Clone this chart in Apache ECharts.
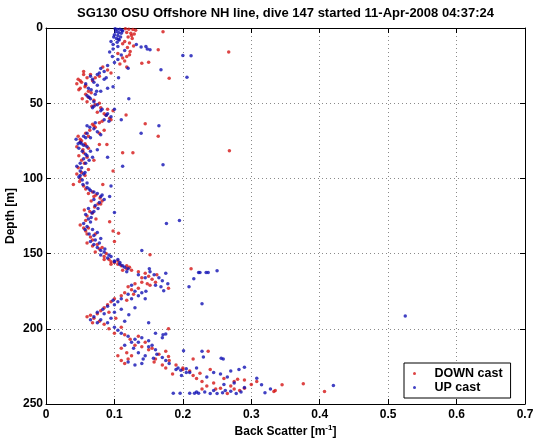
<!DOCTYPE html>
<html><head><meta charset="utf-8">
<script src="https://cdn.jsdelivr.net/npm/echarts@6/dist/echarts.min.js"></script>
<style>html,body{margin:0;padding:0;background:#fff}#c{width:537px;height:442px}</style>
</head><body><div id="c"></div>
<script>
const titleText = 'SG130 OSU Offshore NH line, dive 147 started 11-Apr-2008 04:37:24';
const xName = 'Back Scatter [m';
const xNameSup = '-1';
const yName = 'Depth [m]';
const seriesNames = ['DOWN cast', 'UP cast'];
const xMin = 0, xMax = 0.7, xStep = 0.1;
const yMin = 0, yMax = 250, yStep = 50;

// [back scatter, depth]
const downCast = [
[0.116,0.5],[0.121,0.8],[0.127,1],[0.131,1.5],[0.118,3],[0.124,3.5],[0.129,4],[0.120,6],[0.126,7],[0.115,9],[0.122,10],[0.128,12],[0.119,13],[0.171,2.5],[0.164,14.4],[0.267,16],[0.123,15.6],[0.122,17.8],
[0.105,17],[0.112,20],[0.108,24],[0.115,22],[0.118,26],[0.14,23.4],[0.15,22.7],[0.18,33.4],
[0.083,26],[0.09,28],[0.095,30],[0.078,32],
[0.047,34],[0.052,36],[0.058,38],[0.05,40],[0.062,42],[0.045,37],[0.068,35],[0.055,31],[0.06,33],
[0.062,46],[0.07,48],[0.078,50],[0.067,52],
[0.075,56],[0.088,58],[0.093,60],[0.082,62],[0.098,55],[0.117,57.8],
[0.068,64],[0.072,66],[0.078,70],[0.085,68],[0.062,72],[0.145,63.7],[0.164,72],
[0.047,72],[0.052,75],[0.057,77],[0.045,79],
[0.05,76],[0.058,78],[0.062,80],[0.055,83],[0.06,86],[0.07,88],[0.078,77.5],[0.089,77.5],[0.112,83],[0.127,83],[0.098,95],[0.268,81.6],
[0.047,93],[0.052,96],[0.04,104],[0.057,98],[0.05,100],[0.062,94],[0.083,104],
[0.058,107],[0.068,109],[0.073,111],[0.079,113],[0.066,115],[0.076,117],[0.08,117],
[0.056,121],[0.068,123],[0.06,125],[0.073,127],[0.093,128.8],
[0.05,131],[0.062,133],[0.058,135],[0.072,137],[0.065,139],[0.098,135],[0.106,136.5],
[0.06,143],[0.068,145],[0.078,147],[0.072,149],[0.1,142],[0.152,150.7],
[0.085,152],[0.092,154],[0.1,156],[0.11,158],[0.118,160],[0.125,161],[0.105,155],[0.212,160],
[0.085,154],[0.095,155.5],[0.105,157],[0.118,158],[0.122,159],
[0.145,163],[0.15,165],[0.155,167],[0.16,169],[0.148,170],[0.162,164],[0.179,173],
[0.12,172],[0.13,170],[0.14,169],[0.125,174],[0.115,176],[0.11,178],[0.135,173],
[0.1,180],[0.095,182],[0.09,184],[0.085,186],[0.08,188],[0.075,190],[0.065,191],[0.07,193],[0.06,192],[0.078,195],[0.085,197],[0.102,193],
[0.11,199],[0.115,204],[0.123,207],[0.135,205],[0.145,209],[0.179,200],
[0.11,213],[0.118,216],[0.125,218],[0.14,212],[0.15,214],[0.165,217],[0.175,215],[0.179,218.4],
[0.105,218],[0.11,221],[0.115,223],[0.12,220],[0.158,222],[0.17,224],[0.18,221],
[0.19,224],[0.2,226],[0.21,228],[0.215,231],[0.225,229.6],[0.24,227],[0.26,233],[0.275,235],[0.28,233.5],[0.29,234],[0.237,215],[0.215,220],
[0.2,227],[0.22,233],[0.228,235],[0.175,226],
[0.308,235],[0.345,237.2],[0.376,236.6],[0.407,241.7],[0.333,241.7],
[0.228,240],[0.235,238],[0.248,240],[0.255,239.5],[0.265,243],[0.275,240],[0.283,241],[0.29,239.5],[0.335,241],
[0.055,29],[0.065,31],[0.072,33],[0.05,35],[0.057,39],[0.048,41],[0.066,43],[0.058,44],[0.053,47],[0.06,49],[0.072,51],[0.08,53],[0.09,54],[0.085,57],[0.095,61],[0.078,63],[0.07,65],[0.064,68],[0.058,70],[0.05,74],
[0.054,81],[0.048,85],[0.052,88],[0.056,90],[0.045,97],[0.049,102],[0.055,105],[0.062,110],[0.07,112],[0.082,115],[0.071,119],[0.064,122],[0.058,128],[0.055,133],[0.06,137],[0.068,141],[0.075,144],[0.082,146],[0.088,150],
[0.095,157],[0.112,161],[0.135,162],[0.14,166],[0.152,171],[0.128,177],[0.118,181],[0.092,189],[0.068,196],[0.092,200],[0.1,203],[0.13,211],[0.155,213],[0.16,220],[0.185,230],[0.245,236],[0.27,238],[0.3,237],[0.112,10.5],[0.125,5],[0.118,19]
];

const upCast = [
[0.101,0.5],[0.104,1],[0.108,0.8],[0.111,1.5],[0.102,2.5],[0.106,3],[0.110,3.5],[0.100,4.5],[0.105,5],[0.109,6],[0.103,7],[0.107,8],[0.112,2],[0.104,9.5],[0.099,6],
[0.132,11],[0.139,12.7],[0.146,12.3],[0.148,14],[0.152,14.5],[0.095,9],[0.098,11],[0.105,12.3],[0.2,18.3],[0.212,18.5],
[0.093,16],[0.097,19],[0.105,21],[0.1,23],[0.11,18],[0.12,26.7],[0.168,27.8],[0.206,32.7],
[0.08,27],[0.085,29],[0.075,31],[0.09,25],[0.088,33],
[0.065,32],[0.07,36],[0.075,38],[0.062,40],[0.08,42],[0.072,44],[0.085,34],[0.09,40],[0.098,39],[0.106,33],
[0.06,45],[0.065,47],[0.07,49],[0.075,51],[0.068,53],[0.121,47],
[0.08,55],[0.09,57],[0.095,59],[0.085,61],[0.1,54],[0.11,61],
[0.06,65],[0.07,67],[0.075,69],[0.08,71],[0.065,73],[0.165,65],[0.139,70],
[0.044,74],[0.05,76],[0.055,78],[0.048,80],[0.058,73],
[0.052,77],[0.06,79],[0.065,82],[0.058,84],[0.068,86],[0.063,88],[0.075,81],[0.09,86],[0.112,92],[0.171,91],
[0.045,92],[0.05,95],[0.055,97],[0.048,99],[0.053,101],[0.06,103],[0.058,90],[0.095,105],
[0.06,106],[0.065,108],[0.075,110],[0.08,112],[0.07,114],[0.078,116],[0.072,118],[0.093,112],[0.1,122.6],
[0.062,120],[0.07,122],[0.058,124],[0.066,126],
[0.055,130],[0.06,132],[0.068,134],[0.075,136],[0.07,138],[0.08,140],[0.176,130],[0.195,128],
[0.065,142],[0.07,144],[0.075,146],[0.08,148],[0.085,149],[0.14,148],
[0.08,151],[0.09,153],[0.1,155],[0.108,157],[0.115,159],[0.12,160],[0.095,152],[0.151,160],
[0.1,155.5],[0.108,156],[0.112,158],
[0.152,162],[0.158,164],[0.165,166],[0.17,168],[0.175,163],[0.178,170],[0.168,172],[0.223,162.5],[0.234,162.5],[0.209,172],[0.172,174.7],[0.228,183.4],
[0.225,162.6],[0.237,162.6],[0.25,161.4],[0.216,166.8],
[0.125,171],[0.13,175],[0.12,177],[0.14,176],[0.145,180],[0.11,180],[0.105,182],[0.146,175],[0.13,186],
[0.098,181],[0.09,185],[0.083,187],[0.075,189],[0.07,192],[0.08,194],[0.09,196],[0.095,193],[0.1,189],[0.11,187],[0.121,190.7],[0.115,195],[0.15,196],
[0.525,191.5],
[0.105,201],[0.11,203],[0.12,205],[0.13,207],[0.14,206],[0.125,209],[0.15,208],[0.16,203],[0.17,206],[0.171,204],[0.175,203.5],
[0.115,211],[0.128,213],[0.135,216],[0.145,218],[0.155,211],[0.16,214],[0.17,219],[0.142,220],[0.157,219.5],[0.201,214.6],[0.228,215],[0.23,218.8],[0.256,219.5],[0.259,220],
[0.12,222],[0.13,224],[0.14,223],
[0.18,223],[0.19,227],[0.205,229],
[0.193,226],[0.197,227.5],[0.205,226.5],[0.21,229],[0.22,226],[0.235,232],[0.245,229],[0.255,230],[0.265,232],[0.27,228],[0.282,227],[0.29,225.5],[0.308,232.8],[0.315,237.2],[0.42,237.7],
[0.22,242],[0.232,242],[0.24,243],[0.245,241],[0.25,243],[0.258,242.5],[0.262,241],[0.27,241.5],[0.278,243],[0.285,242],[0.32,242.5],[0.328,240],
[0.186,242.8],[0.196,242.8],[0.21,242.8],[0.217,242.8],[0.223,242.8],
[0.078,30],[0.068,34],[0.058,37],[0.066,41],[0.074,42],[0.063,46],[0.07,52],[0.082,54],[0.088,58],[0.092,62],[0.072,63],[0.064,66],[0.06,70],[0.055,72],[0.047,77],
[0.053,82],[0.06,85],[0.055,87],[0.05,90],[0.052,93],[0.057,96],[0.05,98],[0.054,104],[0.063,107],[0.07,109],[0.082,111],[0.085,114],[0.076,120],[0.067,123],[0.062,127],[0.065,129],[0.057,134],[0.063,137],[0.072,141],[0.078,143],[0.086,147],[0.092,151],
[0.105,154],[0.118,162],[0.135,164],[0.145,166],[0.16,171],[0.135,178],[0.125,180],[0.1,184],[0.085,190],[0.065,194],[0.075,196],[0.1,199],[0.135,209],[0.15,212],[0.162,217],[0.175,221],[0.198,231],[0.26,237],[0.275,236],[0.29,239],[0.106,7.5],[0.098,14],[0.115,15]
];

const FONT = '"Liberation Sans", Arial, Helvetica, sans-serif';
const redColor = '#d41515';
const blueColor = '#1212b4';

const chart = echarts.init(document.getElementById('c'), null, {renderer: 'canvas'});

function axisBase(extra) {
  return Object.assign({
    type: 'value',
    axisLine: {show: true, onZero: false, lineStyle: {color: '#000', width: 1}},
    axisTick: {show: true, inside: true, length: 5, lineStyle: {color: '#000', width: 1}},
    splitLine: {show: false},
    axisLabel: {show: false}
  }, extra);
}

const labelStyle = {color: '#000', fontWeight: 'bold', fontSize: 12, fontFamily: FONT};
const gridLine = {show: true, lineStyle: {color: '#8a8a8a', width: 1, type: [1, 3]}};
const fmt = v => String(Math.round(v * 10) / 10);

chart.setOption({
  animation: false,
  backgroundColor: '#fff',
  title: {
    text: titleText,
    left: 285.5,
    textAlign: 'center',
    top: 7,
    padding: 0,
    textStyle: {color: '#000', fontWeight: 'bold', fontSize: 13, fontFamily: FONT}
  },
  grid: {left: 46, right: 12, top: 28, bottom: 38, containLabel: false, outerBoundsMode: 'none'},
  legend: {
    orient: 'vertical',
    left: 404,
    top: 363,
    padding: [4, 8, 4, 9],
    itemGap: 1,
    itemWidth: 30,
    itemHeight: 3,
    backgroundColor: '#fff',
    borderColor: '#000',
    borderWidth: 1,
    borderRadius: 0,
    textStyle: {color: '#000', fontWeight: 'bold', fontSize: 12.5, fontFamily: FONT, padding: [0, 0, 0, 0]},
    data: [{name: seriesNames[0], icon: 'circle'}, {name: seriesNames[1], icon: 'circle'}]
  },
  xAxis: [
    axisBase({
      min: xMin, max: xMax, interval: xStep, position: 'bottom',
      splitLine: gridLine,
      axisLabel: Object.assign({show: true, margin: 5, formatter: fmt}, labelStyle),
      name: '{a|' + xName + '}{s|' + xNameSup + '}{a|]}',
      nameLocation: 'middle',
      nameGap: 21,
      nameMoveOverlap: false,
      nameTextStyle: {
        rich: {
          a: {color: '#000', fontWeight: 'bold', fontSize: 12, fontFamily: FONT, lineHeight: 14},
          s: {color: '#000', fontWeight: 'bold', fontSize: 8, fontFamily: FONT, lineHeight: 8, padding: [0, 0, 8, 0]}
        }
      }
    }),
    axisBase({min: xMin, max: xMax, interval: xStep, position: 'top'})
  ],
  yAxis: [
    axisBase({
      min: yMin, max: yMax, interval: yStep, inverse: true, position: 'left',
      splitLine: gridLine,
      axisLabel: Object.assign({show: true, margin: 3}, labelStyle),
      name: yName,
      nameLocation: 'middle',
      nameGap: 29,
      nameRotate: 90,
      nameMoveOverlap: false,
      nameTextStyle: {color: '#000', fontWeight: 'bold', fontSize: 12, fontFamily: FONT}
    }),
    axisBase({min: yMin, max: yMax, interval: yStep, inverse: true, position: 'right'})
  ],
  series: [
    {name: seriesNames[0], type: 'scatter', data: downCast, symbol: 'circle', symbolSize: 3.5,
     itemStyle: {color: redColor}, xAxisIndex: 0, yAxisIndex: 0, z: 2},
    {name: seriesNames[1], type: 'scatter', data: upCast, symbol: 'circle', symbolSize: 3.5,
     itemStyle: {color: blueColor}, xAxisIndex: 0, yAxisIndex: 0, z: 3}
  ]
});
</script></body></html>
